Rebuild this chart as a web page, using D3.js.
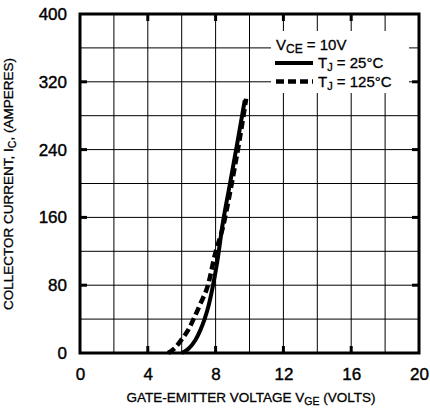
<!DOCTYPE html>
<html><head><meta charset="utf-8">
<script src="https://cdn.jsdelivr.net/npm/d3@7"></script>
<style>body{margin:0;background:#fff}svg{display:block}</style>
</head><body>
<svg id="c" width="430" height="412"></svg>
<script>
const xTicks = [0,4,8,12,16,20];
const yTicks = [0,80,160,240,320,400];
const xGrid = [2,4,6,8,10,12,14,16,18];
const yGrid = [40,80,120,160,200,240,280,320,360];
const seriesNames = ["T_J = 25°C","T_J = 125°C"];
const vge25 = [6.0,6.4,6.8,7.1,7.35,7.6,7.85,8.1,8.4,8.85,9.3,9.72];
const ic25  = [0,5,15,27,40,57,80,108,150,200,250,298];
const vge125 = [5.2,5.6,6.0,6.35,6.7,7.1,7.55,7.95,8.45,8.95,9.4,9.8];
const ic125  = [0,6,16,26,40,58,80,115,150,200,250,300];

const svg = d3.select("#c");
const font = "'Liberation Sans', Arial, sans-serif";
const x = d3.scaleLinear().domain([0,20]).range([80,419]);
const y = d3.scaleLinear().domain([0,400]).range([353,14]);

// grid
svg.append("g").selectAll("line").data(xGrid).join("line")
  .attr("x1",d=>x(d)).attr("x2",d=>x(d)).attr("y1",y(0)).attr("y2",y(400))
  .attr("stroke","#000").attr("stroke-width",1);
svg.append("g").selectAll("line").data(yGrid).join("line")
  .attr("y1",d=>y(d)).attr("y2",d=>y(d)).attr("x1",x(0)).attr("x2",x(20))
  .attr("stroke","#000").attr("stroke-width",1);

// legend background
svg.append("rect").attr("x",271).attr("y",31).attr("width",138).attr("height",62).attr("fill","#fff");

// inward major ticks
const tb = svg.append("g");
[4,8,12,16].forEach(v=>{
  tb.append("line").attr("x1",x(v)).attr("x2",x(v)).attr("y1",y(0)).attr("y2",y(0)-7).attr("stroke","#000").attr("stroke-width",3);
  tb.append("line").attr("x1",x(v)).attr("x2",x(v)).attr("y1",y(400)).attr("y2",y(400)+7).attr("stroke","#000").attr("stroke-width",3);
});
[80,160,240,320].forEach(v=>{
  tb.append("line").attr("x1",x(0)).attr("x2",x(0)+7).attr("y1",y(v)).attr("y2",y(v)).attr("stroke","#000").attr("stroke-width",3);
  tb.append("line").attr("x1",x(20)).attr("x2",x(20)-7).attr("y1",y(v)).attr("y2",y(v)).attr("stroke","#000").attr("stroke-width",3);
});

// border
svg.append("rect").attr("x",x(0)).attr("y",y(400)).attr("width",x(20)-x(0)).attr("height",y(0)-y(400))
  .attr("fill","none").attr("stroke","#000").attr("stroke-width",3);

// curves
const line = d3.line().x(d=>x(d[0])).y(d=>y(d[1])).curve(d3.curveMonotoneX);
const d25 = vge25.map((v,i)=>[v,ic25[i]]);
const d125 = vge125.map((v,i)=>[v,ic125[i]]);
svg.append("path").attr("d",line(d25)).attr("fill","none").attr("stroke","#000").attr("stroke-width",4);
svg.append("path").attr("d",line(d125)).attr("fill","none").attr("stroke","#000").attr("stroke-width",4.5)
  .attr("stroke-dasharray","8,4");

// axes labels
const xAxis = d3.axisBottom(x).tickValues(xTicks).tickSize(0).tickPadding(15).tickFormat(d3.format("d"));
const gx = svg.append("g").attr("transform",`translate(0,${y(0)})`).call(xAxis);
gx.select(".domain").remove();
gx.selectAll("text").attr("font-family",font).attr("font-size",17).attr("fill","#000")
  .attr("stroke","#000").attr("stroke-width",0.4).attr("dy","0.71em");
const yAxis = d3.axisLeft(y).tickValues(yTicks).tickSize(0).tickPadding(13).tickFormat(d3.format("d"));
const gy = svg.append("g").attr("transform",`translate(${x(0)},0)`).call(yAxis);
gy.select(".domain").remove();
gy.selectAll("text").attr("font-family",font).attr("font-size",17).attr("fill","#000")
  .attr("stroke","#000").attr("stroke-width",0.4);

// axis titles
const xt = svg.append("text").attr("x",251).attr("y",402).attr("text-anchor","middle")
  .attr("font-family",font).attr("font-size",13.5).attr("fill","#000")
  .attr("stroke","#000").attr("stroke-width",0.3);
xt.append("tspan").text("GATE-EMITTER VOLTAGE  V");
xt.append("tspan").attr("font-size",10.5).attr("dy",3).text("GE");
xt.append("tspan").attr("dy",-3).text("  (VOLTS)");

const yt = svg.append("text").attr("transform","translate(13,184) rotate(-90)").attr("text-anchor","middle")
  .attr("font-family",font).attr("font-size",13.5).attr("fill","#000")
  .attr("stroke","#000").attr("stroke-width",0.3);
yt.append("tspan").text("COLLECTOR CURRENT, I");
yt.append("tspan").attr("font-size",10.5).attr("dy",3).text("C");
yt.append("tspan").attr("dy",-3).text(", (AMPERES)");

// legend
const lg = svg.append("g").attr("font-family",font).attr("font-size",15).attr("fill","#000")
  .attr("stroke","#000").attr("stroke-width",0.3);
const t0 = lg.append("text").attr("x",276).attr("y",50);
t0.append("tspan").text("V");
t0.append("tspan").attr("font-size",12).attr("dy",3).text("CE");
t0.append("tspan").attr("dy",-3).text(" = 10V");
lg.append("line").attr("x1",275).attr("x2",313).attr("y1",63).attr("y2",63).attr("stroke","#000").attr("stroke-width",4);
lg.append("line").attr("x1",276).attr("x2",313).attr("y1",81.5).attr("y2",81.5).attr("stroke","#000").attr("stroke-width",4.5).attr("stroke-dasharray","8,4");
[[seriesNames[0],68],[seriesNames[1],87]].forEach(([s,yy])=>{
  const parts = s.split("_");
  const rest = parts[1].slice(1);
  const t = lg.append("text").attr("x",318).attr("y",yy);
  t.append("tspan").text(parts[0]);
  t.append("tspan").attr("font-size",11).attr("dy",3).text(parts[1][0]);
  t.append("tspan").attr("dy",-3).text(rest);
});
</script>
</body></html>
